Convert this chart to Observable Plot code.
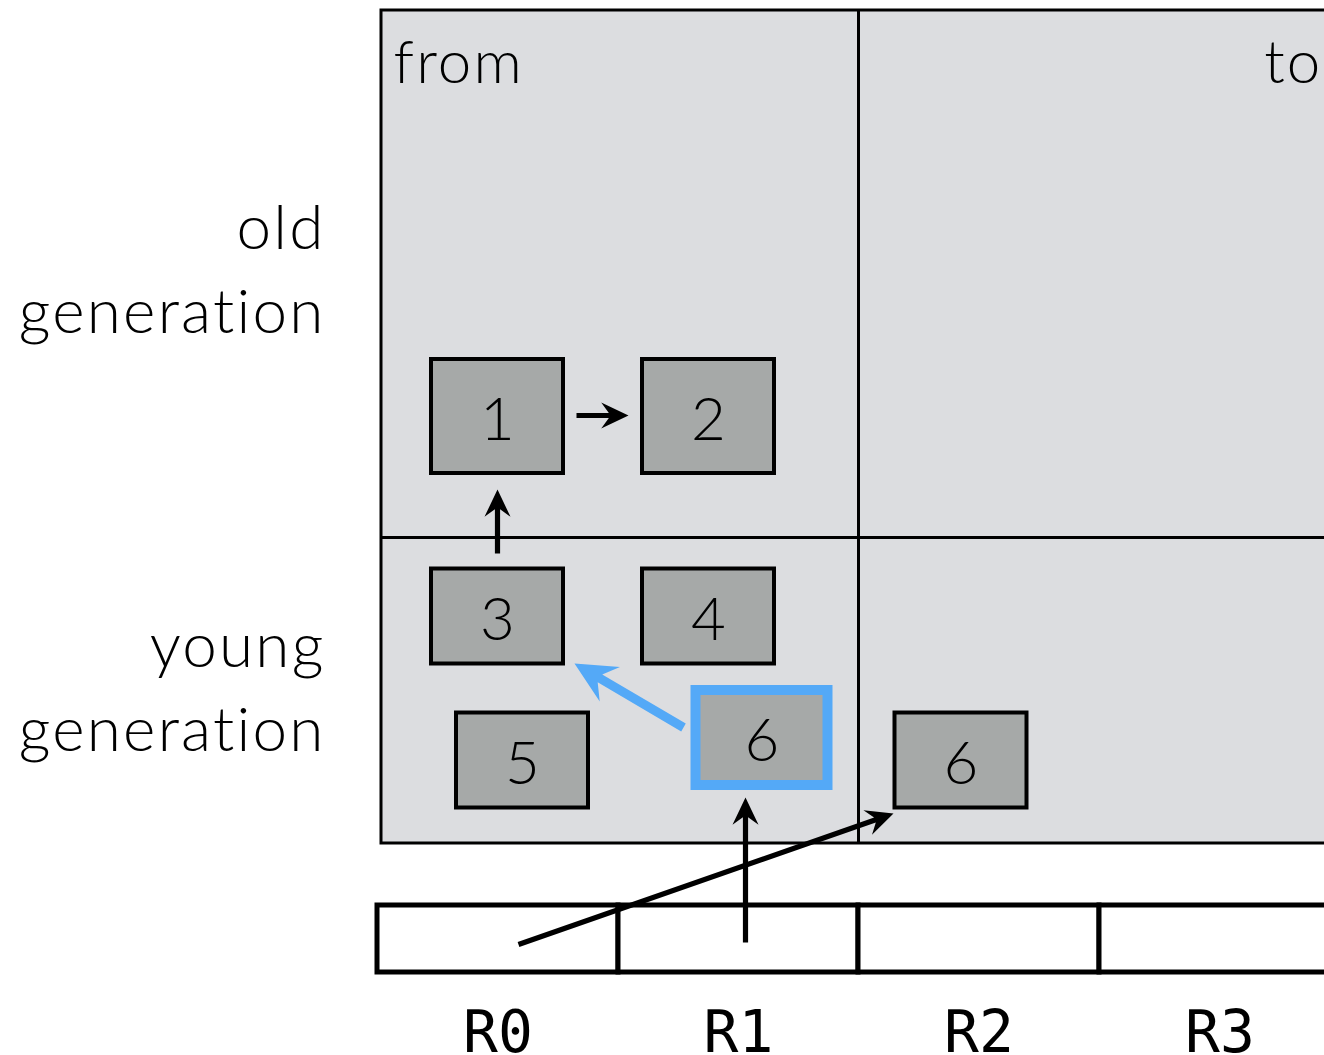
<!DOCTYPE html>
<html><head><meta charset="utf-8">
<script src="https://cdn.jsdelivr.net/npm/d3@7"></script>
<script src="https://cdn.jsdelivr.net/npm/@observablehq/plot@0.6"></script>
<style>
html,body{margin:0;padding:0;background:#fff;overflow:hidden}
.sans-label text{font-variant-ligatures:none;letter-spacing:2.2px}
</style>
</head><body><div id="chart"></div>
<script>
const W = 1324, H = 1055;

// heap panels
const panelCols = ["from", "to"];
const panelColEdges = [381, 858, 1340];
const panelRowLabels = ["old\ngeneration", "young\ngeneration"];
const panelRowEdges = [10, 537, 843];

// objects in the heap
const boxLabels = ["1", "2", "3", "4", "5", "6", "6"];
const boxCenterX = [497, 708, 497, 708, 522, 761.5, 960.5];
const boxCenterY = [416, 416, 616, 616, 760, 737.5, 760];
const boxHeights = [114, 114, 95, 95, 95, 95, 95];
const boxHighlighted = [false, false, false, false, false, true, false];

// registers
const regLabels = ["R0", "R1", "R2", "R3"];
const regEdges = [377, 618, 858, 1099, 1340];
const regTop = 905, regBottom = 972;

// references (arrows)
const arrowFromX = [576, 497, 683, 745, 518];
const arrowFromY = [415, 553, 727, 942, 944];
const arrowToX   = [628, 497, 574, 745, 893];
const arrowToY   = [415, 489, 663, 797, 813];
const arrowHighlighted = [false, false, true, false, false];

// ---- derived tables ----
const BOX_W = 132;
const boxes = boxLabels.map((label, i) => ({
  label, cx: boxCenterX[i], cy: boxCenterY[i], h: boxHeights[i], hi: boxHighlighted[i]
}));
const arrows = arrowFromX.map((x1, i) => {
  const dx = arrowToX[i] - x1, dy = arrowToY[i] - arrowFromY[i];
  return {x: arrowToX[i], y: arrowToY[i], len: Math.hypot(dx, dy),
          angle: Math.atan2(dx, -dy) * 180 / Math.PI, hi: arrowHighlighted[i]};
});
const regCells = regLabels.map((label, i) => ({label, x1: regEdges[i], x2: regEdges[i + 1]}));
const rowLabelData = panelRowLabels.map((label, i) => ({label, y: [332, 750][i]}));

function arrowShape(sw, ratio) {
  return {
    draw(ctx, l, r) {
      const hw = r, hl = r * ratio, notch = hl * 0.72;
      ctx.moveTo(-sw, 0);
      ctx.lineTo(-sw, -l + notch);
      ctx.lineTo(-hw, -l + hl);
      ctx.lineTo(0, -l);
      ctx.lineTo(hw, -l + hl);
      ctx.lineTo(sw, -l + notch);
      ctx.lineTo(sw, 0);
      ctx.closePath();
    }
  };
}

const SANS = "Lato, 'Open Sans', sans-serif";
const MONO = "'DejaVu Sans Mono', monospace";
const BLUE = "#54a9f7";

const chart = Plot.plot({
  width: W, height: H, margin: 0,
  style: {background: "white", overflow: "hidden"},
  x: {domain: [0, W], range: [0, W], axis: null},
  y: {domain: [0, H], range: [0, H], axis: null},
  length: {type: "identity"},
  marks: [
    // heap background
    Plot.rect([0], {x1: panelColEdges[0], x2: panelColEdges[2], y1: panelRowEdges[0], y2: panelRowEdges[2],
      fill: "#dcdde0", stroke: "black", strokeWidth: 3, clip: true}),
    Plot.ruleX([panelColEdges[1]], {y1: panelRowEdges[0], y2: panelRowEdges[2], stroke: "black", strokeWidth: 3}),
    Plot.ruleY([panelRowEdges[1]], {x1: panelColEdges[0], x2: panelColEdges[2], stroke: "black", strokeWidth: 3, clip: true}),
    // panel titles
    Plot.text([panelCols[0]], {x: 393, y: 82, text: d => d, textAnchor: "start", lineAnchor: "bottom",
      fontSize: 60, fontWeight: 300, fontFamily: SANS, fill: "black", className: "sans-label"}),
    Plot.text([panelCols[1]], {x: 1322, y: 82, text: d => d, textAnchor: "end", lineAnchor: "bottom",
      fontSize: 60, fontWeight: 300, fontFamily: SANS, fill: "black", className: "sans-label"}),
    // row labels
    Plot.text(rowLabelData, {x: 325, y: "y", text: "label", textAnchor: "end", lineAnchor: "bottom",
      lineHeight: 1.35, fontSize: 62, fontWeight: 300, fontFamily: SANS, fill: "black", className: "sans-label"}),
    // objects
    Plot.rect(boxes.filter(d => !d.hi), {x1: d => d.cx - BOX_W / 2, x2: d => d.cx + BOX_W / 2,
      y1: d => d.cy - d.h / 2, y2: d => d.cy + d.h / 2, fill: "#a6a9a8", stroke: "black", strokeWidth: 4}),
    Plot.rect(boxes.filter(d => d.hi), {x1: d => d.cx - BOX_W / 2, x2: d => d.cx + BOX_W / 2,
      y1: d => d.cy - d.h / 2, y2: d => d.cy + d.h / 2, fill: "#a6a9a8", stroke: BLUE, strokeWidth: 10}),
    Plot.text(boxes, {x: "cx", y: "cy", text: "label", dy: 4, fontSize: 60, fontWeight: 300, fontFamily: SANS, fill: "black"}),
    // registers
    Plot.rect(regCells, {x1: "x1", x2: "x2", y1: regTop, y2: regBottom, fill: "white", stroke: "black",
      strokeWidth: 5, clip: true}),
    Plot.text(regCells, {x: d => (d.x1 + d.x2) / 2, y: 1051, text: "label", lineAnchor: "bottom",
      fontSize: 58, fontFamily: MONO, fill: "black"}),
    // references
    Plot.vector(arrows.filter(d => !d.hi), {x: "x", y: "y", length: "len", rotate: "angle", anchor: "end",
      r: 13, shape: arrowShape(2.6, 2.1), fill: "black", stroke: "none"}),
    Plot.vector(arrows.filter(d => d.hi), {x: "x", y: "y", length: "len", rotate: "angle", anchor: "end",
      r: 20, shape: arrowShape(4.5, 2.05), fill: BLUE, stroke: "none"})
  ]
});
document.getElementById("chart").appendChild(chart);
</script>
</body></html>
